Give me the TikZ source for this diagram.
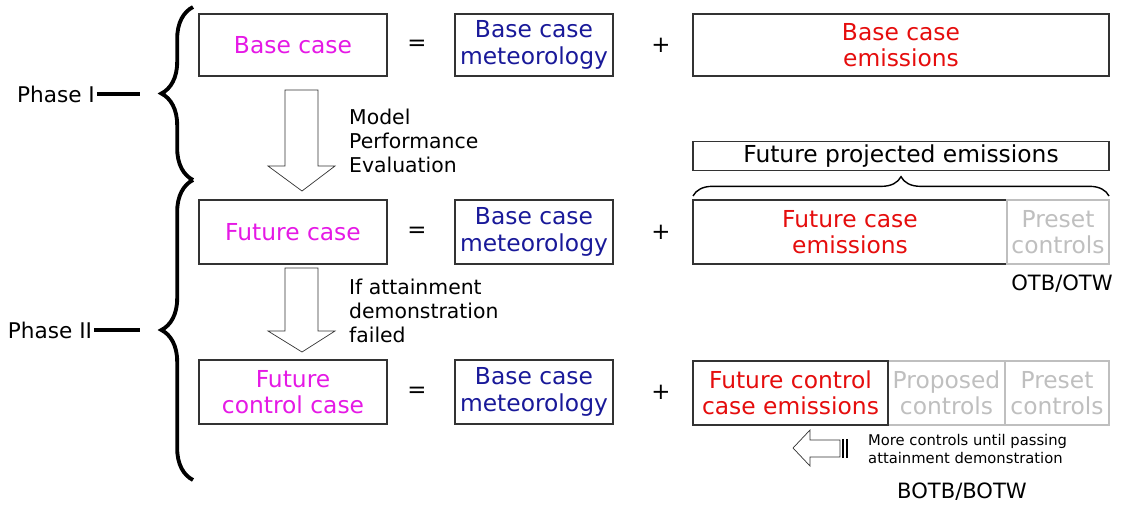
\documentclass[tikz,border=0pt]{standalone}
\usepackage{fontspec}
\setmainfont{DejaVu Sans}
\usetikzlibrary{decorations.pathreplacing}
\usetikzlibrary{positioning}
\definecolor{casecol}{rgb}{0.9,0.1,0.9}
\definecolor{metcol}{rgb}{0.1,0.1,0.6}
\definecolor{emiscol}{rgb}{0.9,0.05,0.05}
\definecolor{ctrlcol}{rgb}{0.75,0.75,0.75}
\tikzset{
  box/.style={draw=black!80, thick, inner sep=0pt, align=center, font=\fontsize{13.3}{15}\selectfont},
  graybox/.style={draw=ctrlcol, thick, inner sep=0pt, align=center, text=ctrlcol, font=\fontsize{13.3}{15}\selectfont},
  note/.style={align=left, anchor=west, font=\fontsize{11.6}{13.5}\selectfont},
  opsign/.style={font=\fontsize{13}{15}\selectfont},
  hollow/.style={draw=black!80, fill=white},
  phasebrace/.style={decorate, decoration={brace, amplitude=18pt}, line width=2.2pt},
}
\begin{document}
\begin{tikzpicture}[x=0.02cm, y=-0.02cm]
	\useasboundingbox (0,0) rectangle (1142,524);

	% left column
	\node[box, text=casecol, minimum width=188*0.02cm, minimum height=62*0.02cm] (base) at (293,45) {Base case};
	\node[box, text=casecol, minimum width=188*0.02cm, minimum height=64*0.02cm] (fut) at (293,232) {Future case};
	\node[box, text=casecol, minimum width=188*0.02cm, minimum height=64*0.02cm] (futctrl) at (293,392) {Future\\control case};

	% equal signs
	\node[opsign] (eq1) at (417,45) {=};
	\node[opsign] (eq2) at (417,232) {=};
	\node[opsign] (eq3) at (417,392) {=};

	% meteorology
	\node[box, text=metcol, minimum width=158*0.02cm, minimum height=62*0.02cm] (met1) at (534,45) {Base case\\meteorology};
	\node[box, text=metcol, minimum width=158*0.02cm, minimum height=64*0.02cm] (met2) at (534,232) {Base case\\meteorology};
	\node[box, text=metcol, minimum width=158*0.02cm, minimum height=64*0.02cm] (met3) at (534,392) {Base case\\meteorology};

	% plus signs
	\node[opsign] (plus1) at (661,45) {+};
	\node[opsign] (plus2) at (661,232) {+};
	\node[opsign] (plus3) at (661,392) {+};

	% emissions
	\node[box, text=emiscol, minimum width=416*0.02cm, minimum height=62*0.02cm] (emis1) at (901,45) {Base case\\emissions};
	\node[box, minimum width=416*0.02cm, minimum height=29*0.02cm] (proj) at (901,156) {Future projected emissions};
	\draw[decorate, decoration={brace, amplitude=11pt}, thick] (693,196) -- (1109,196);
	\node[box, text=emiscol, minimum width=314*0.02cm, minimum height=64*0.02cm] (emis2) at (850,232) {Future case\\emissions};
	\node[graybox, minimum width=102*0.02cm, minimum height=64*0.02cm] (preset2) at (1058,232) {Preset\\controls};
	\node[font=\fontsize{12}{14}\selectfont] (otb) at (1062,284) {OTB/OTW};

	\node[graybox, minimum width=117*0.02cm, minimum height=64*0.02cm] (prop3) at (946.5,393) {Proposed\\controls};
	\node[graybox, minimum width=104*0.02cm, minimum height=64*0.02cm] (preset3) at (1057,393) {Preset\\controls};
	\node[box, text=emiscol, minimum width=195*0.02cm, minimum height=64*0.02cm] (emis3) at (790.5,393) {Future control\\case emissions};

	% hollow arrow to the left
	\draw[hollow] (793,448) -- (810,430) -- (810,440) -- (840,440) -- (840,457) -- (810,457) -- (810,466) -- cycle;
	\draw[thick] (843,439) -- (843,458);
	\draw[thick] (847,439) -- (847,458);
	\node[note, font=\fontsize{8.4}{10.5}\selectfont] (more) at (862,449) {More controls until passing\\attainment demonstration};
	\node[font=\fontsize{12}{14}\selectfont] (botb) at (962,492) {BOTB/BOTW};

	% down arrows
	\draw[hollow] (285,90) -- (318,90) -- (318,166) -- (335,166) -- (302,191) -- (268,166) -- (285,166) -- cycle;
	\node[note] (mpe) at (343,141) {Model\\Performance\\Evaluation};
	\draw[hollow] (285,268) -- (318,268) -- (318,331) -- (335,331) -- (302,352) -- (268,331) -- (285,331) -- cycle;
	\node[note] (iaf) at (343,311) {If attainment\\demonstration\\failed};

	% phases
	\draw[phasebrace] (193,180) -- (193,7);
	\draw[phasebrace] (193,480) -- (193,180);
	\node[font=\fontsize{12.3}{14}\selectfont, inner sep=1pt] (ph1) at (56,94) {Phase I};
	\node[font=\fontsize{12.3}{14}\selectfont, inner sep=1pt] (ph2) at (50,330) {Phase II};
	\draw[line width=2.2pt] (ph1.east) -- (140,94);
	\draw[line width=2.2pt] (ph2.east) -- (140,330);
\end{tikzpicture}
\end{document}
